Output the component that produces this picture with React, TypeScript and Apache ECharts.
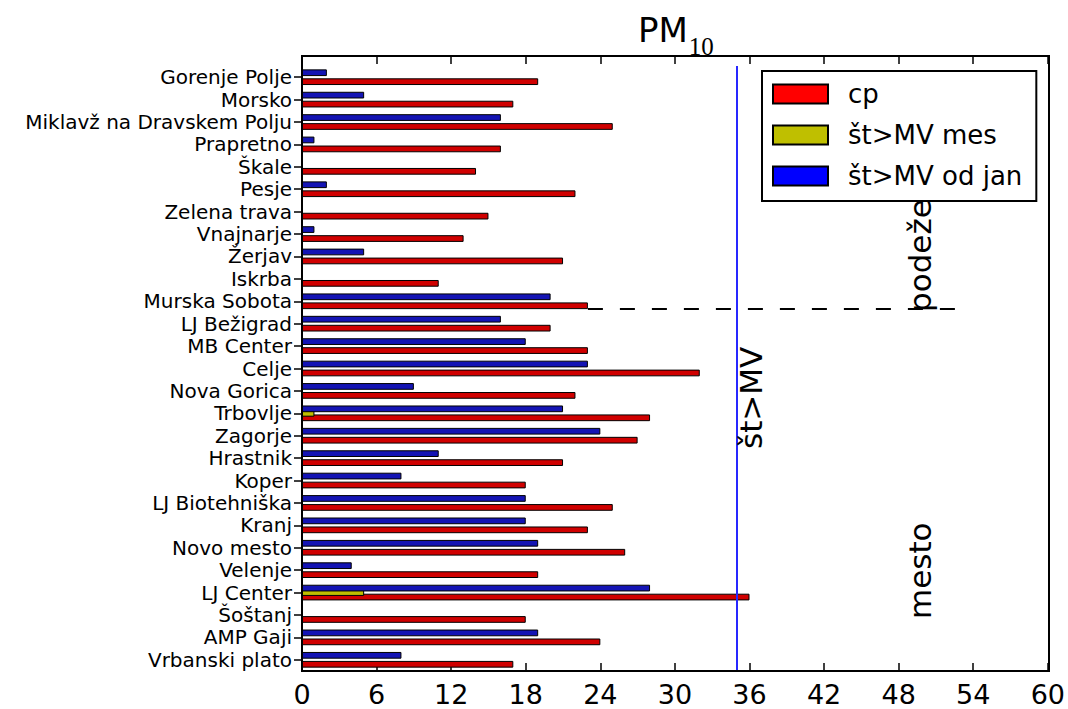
import React, { useEffect, useRef } from "react";
import * as echarts from "echarts";

// ---- data ----
const stations = [
  "Gorenje Polje", "Morsko", "Miklavž na Dravskem Polju", "Prapretno", "Škale", "Pesje",
  "Zelena trava", "Vnajnarje", "Žerjav", "Iskrba", "Murska Sobota", "LJ Bežigrad",
  "MB Center", "Celje", "Nova Gorica", "Trbovlje", "Zagorje", "Hrastnik", "Koper",
  "LJ Biotehniška", "Kranj", "Novo mesto", "Velenje", "LJ Center", "Šoštanj",
  "AMP Gaji", "Vrbanski plato",
];
const cp = [19, 17, 25, 16, 14, 22, 15, 13, 21, 11, 23, 20, 23, 32, 22, 28, 27, 21, 18, 25, 23, 26, 19, 36, 18, 24, 17];
const stMes = [0, 0, 0, 0, 0, 0, 0, 0, 0, 0, 0, 0, 0, 0, 0, 1, 0, 0, 0, 0, 0, 0, 0, 5, 0, 0, 0];
const stOdJan = [2, 5, 16, 1, 0, 2, 0, 1, 5, 0, 20, 16, 18, 23, 9, 21, 24, 11, 8, 18, 18, 19, 4, 28, 0, 19, 8];

const seriesNames = ["cp", "št>MV mes", "št>MV od jan"];
const xMin = 0;
const xMax = 60;
const xInterval = 6;
const limitValue = 35;
const limitLabel = "št>MV";
const dividerStation = "Murska Sobota";
const dividerRange = [23, 53];
const groupLabels = ["podeželje", "mesto"];
const titleMain = "PM";
const titleSub = "10";

const FONT = "DejaVu Sans";

export default function App() {
  const ref = useRef<HTMLDivElement | null>(null);

  useEffect(() => {
    if (!ref.current) return;
    const chart = echarts.init(ref.current, undefined, { renderer: "svg" });

    const gridLeft = 302;
    const gridRight = 1049;
    const gridTop = 66;
    const gridBottom = 671;
    const frameTop = 56;

    const barBase = {
      type: "bar" as const,
      barWidth: "30%",
      barGap: "-33.33%",
      xAxisIndex: 0,
      yAxisIndex: 0,
    };

    const baseGraphics = () => [
      {
        id: "frame",
        type: "rect",
        z: 20,
        silent: true,
        shape: { x: gridLeft, y: frameTop, width: gridRight - gridLeft, height: gridBottom - frameTop },
        style: { fill: "none", stroke: "#000", lineWidth: 2 },
      },
      {
        id: "limitText",
        type: "text",
        z: 6,
        x: 751,
        y: 449,
        rotation: Math.PI / 2,
        style: { text: limitLabel, fontSize: 31, fontFamily: FONT, fill: "#000", align: "left", verticalAlign: "middle" },
      },
      {
        id: "rural",
        type: "text",
        z: 1,
        x: 920,
        y: 312,
        rotation: Math.PI / 2,
        style: { text: groupLabels[0], fontSize: 31, fontFamily: FONT, fill: "#000", align: "left", verticalAlign: "middle" },
      },
      {
        id: "urban",
        type: "text",
        z: 1,
        x: 920,
        y: 619,
        rotation: Math.PI / 2,
        style: { text: groupLabels[1], fontSize: 31, fontFamily: FONT, fill: "#000", align: "left", verticalAlign: "middle" },
      },
    ];

    chart.setOption({
      animation: false,
      backgroundColor: "#fff",
      title: {
        left: 638,
        top: 13,
        padding: 0,
        text: `{a|${titleMain}}{b|${titleSub}}`,
        textStyle: {
          fontWeight: "normal",
          rich: {
            a: { fontSize: 34, fontFamily: FONT, fontWeight: "normal", color: "#000", lineHeight: 46, verticalAlign: "top" },
            b: { fontSize: 25, fontFamily: "Liberation Serif", fontWeight: "normal", color: "#000", lineHeight: 24, verticalAlign: "bottom", padding: [0, 0, 0, 1] },
          },
        },
      },
      legend: {
        orient: "vertical",
        left: 762,
        top: 71,
        z: 10,
        padding: [10, 14, 12, 10],
        itemWidth: 55,
        itemHeight: 19,
        itemGap: 15,
        backgroundColor: "#fff",
        borderColor: "#000",
        borderWidth: 2,
        borderRadius: 0,
        selectedMode: false,
        icon: "rect",
        textStyle: { fontSize: 26, fontFamily: FONT, color: "#000", lineHeight: 26, padding: [0, 0, 0, 15] },
        data: [
          { name: seriesNames[0], itemStyle: { color: "#ff0000", borderColor: "#000", borderWidth: 2 } },
          { name: seriesNames[1], itemStyle: { color: "#bfbf00", borderColor: "#000", borderWidth: 2 } },
          { name: seriesNames[2], itemStyle: { color: "#0000ff", borderColor: "#000", borderWidth: 2 } },
        ],
      },
      grid: { left: gridLeft, right: 1068 - gridRight, top: gridTop, bottom: 709 - gridBottom, containLabel: false },
      xAxis: [
        {
          type: "value",
          min: xMin,
          max: xMax,
          interval: xInterval,
          position: "bottom",
          axisLine: { show: false },
          axisTick: { show: true, inside: true, length: 8, lineStyle: { color: "#000", width: 1.5 } },
          axisLabel: { fontSize: 27, lineHeight: 27, fontFamily: FONT, color: "#000", margin: 10 },
          splitLine: { show: false },
        },
        {
          type: "value",
          min: xMin,
          max: xMax,
          interval: xInterval,
          position: "top",
          offset: gridTop - frameTop,
          axisLine: { show: false },
          axisTick: { show: true, inside: true, length: 8, lineStyle: { color: "#000", width: 1.5 } },
          axisLabel: { show: false },
          splitLine: { show: false },
        },
      ],
      yAxis: [
        {
          type: "category",
          data: stations,
          inverse: true,
          position: "left",
          axisLine: { show: false },
          axisTick: { show: false },
          axisLabel: { fontSize: 20, fontFamily: FONT, color: "#000", margin: 10, interval: 0 },
          splitLine: { show: false },
        },
        {
          type: "category",
          data: stations,
          inverse: true,
          position: "right",
          axisLine: { show: false },
          axisTick: { show: true, inside: true, alignWithLabel: true, length: 8, lineStyle: { color: "#000", width: 1.5 } },
          axisLabel: { show: false },
          splitLine: { show: false },
        },
      ],
      series: [
        {
          ...barBase,
          name: seriesNames[2],
          z: 4,
          data: stOdJan,
          itemStyle: { color: "#1414b4", borderColor: "#000", borderWidth: 1 },
          markLine: {
            silent: true,
            symbol: "none",
            label: { show: false },
            lineStyle: { color: "#2828ff", width: 2, type: "solid" },
            data: [{ xAxis: limitValue }],
          },
        },
        {
          ...barBase,
          name: seriesNames[1],
          z: 3,
          data: stMes,
          itemStyle: { color: "#bfbf00", borderColor: "#000", borderWidth: 1 },
        },
        {
          ...barBase,
          name: seriesNames[0],
          z: 2,
          data: cp,
          itemStyle: { color: "#d00000", borderColor: "#000", borderWidth: 1 },
        },
      ],
      graphic: { elements: baseGraphics() },
    });

    // dashed divider below the divider station, placed through the chart's own scales
    const idx = stations.indexOf(dividerStation);
    const pA = chart.convertToPixel({ xAxisIndex: 0, yAxisIndex: 0 }, [dividerRange[0], idx]) as number[];
    const pB = chart.convertToPixel({ xAxisIndex: 0, yAxisIndex: 0 }, [dividerRange[1], idx]) as number[];
    const pN = chart.convertToPixel({ xAxisIndex: 0, yAxisIndex: 0 }, [dividerRange[0], idx + 1]) as number[];
    const band = pN[1] - pA[1];
    const yLine = pA[1] + 0.35 * band;
    chart.setOption({
      graphic: {
        elements: [
          ...baseGraphics(),
          {
            id: "divider",
            type: "line",
            z: 5,
            silent: true,
            shape: { x1: pA[0], y1: yLine, x2: pB[0], y2: yLine },
            style: { stroke: "#000", lineWidth: 2, lineDash: [15, 17] },
          },
        ],
      },
    });

    return () => chart.dispose();
  }, []);

  return <div ref={ref} style={{ position: "fixed", left: 0, top: 0, width: 1068, height: 709 }} />;
}
